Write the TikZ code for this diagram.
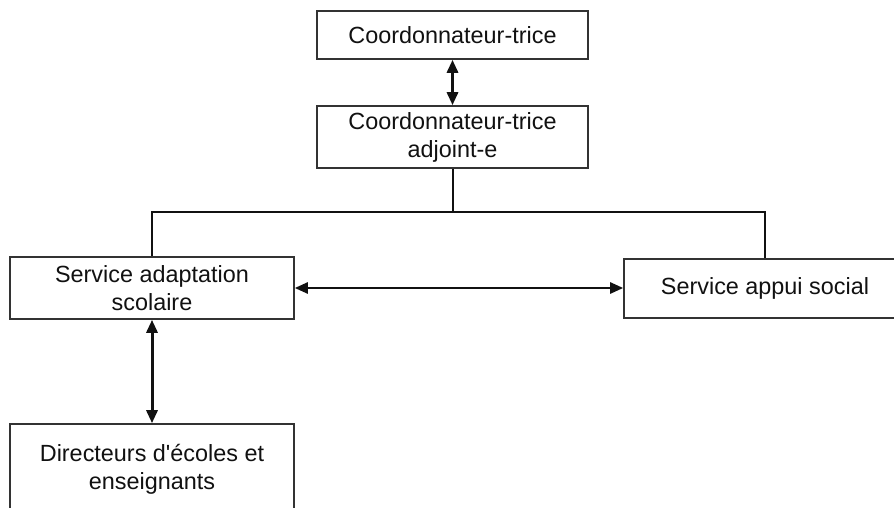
\documentclass[tikz,border=0pt]{standalone}
\usepackage{fontspec}
\setmainfont{Liberation Sans}[Ligatures=TeXOff]
\usetikzlibrary{arrows.meta}
\definecolor{ink}{HTML}{111111}
\definecolor{edge}{HTML}{333333}
\tikzset{
  box/.style={draw=edge, line width=1.6pt, fill=white, align=center, text=ink,
    font=\fontsize{23.4}{28}\selectfont, inner sep=0pt},
  link/.style={draw=ink, line width=2pt},
  biarrow/.style={draw=ink, line width=3pt,
    {Triangle[length=13pt,width=11pt]}-{Triangle[length=13pt,width=11pt]}},
}
\begin{document}
\begin{tikzpicture}[x=1pt,y=-1pt]
\useasboundingbox (0,0) rectangle (894,508);
\fill[white] (0,0) rectangle (894,508);
\clip (0,0) rectangle (894,508);
\node[box, minimum width=271pt, minimum height=48pt] (coord) at (452.5,35) {Coordonnateur-trice};
\node[box, minimum width=271pt, minimum height=62pt] (adj) at (452.5,137) {Coordonnateur-trice\\adjoint-e};
\node[box, minimum width=284pt, minimum height=62pt] (adapt) at (152,288) {Service adaptation\\scolaire};
\node[box, minimum width=282pt, minimum height=59pt] (social) at (765,288.5) {Service appui social};
\node[box, minimum width=284pt, minimum height=90pt] (dir) at (152,469) {Directeurs d'écoles et\\enseignants};
\coordinate (bus) at (452.5,212);
\draw[biarrow] (coord.south) -- (adj.south |- adj.north);
\draw[link] (adj.south) -- (bus);
\draw[link] (adapt.north) |- (bus) -| (social.north);
\draw[biarrow, line width=2.5pt] (adapt.east) -- (adapt.east -| social.west);
\draw[biarrow] (adapt.south) -- (dir.north);
\end{tikzpicture}
\end{document}
